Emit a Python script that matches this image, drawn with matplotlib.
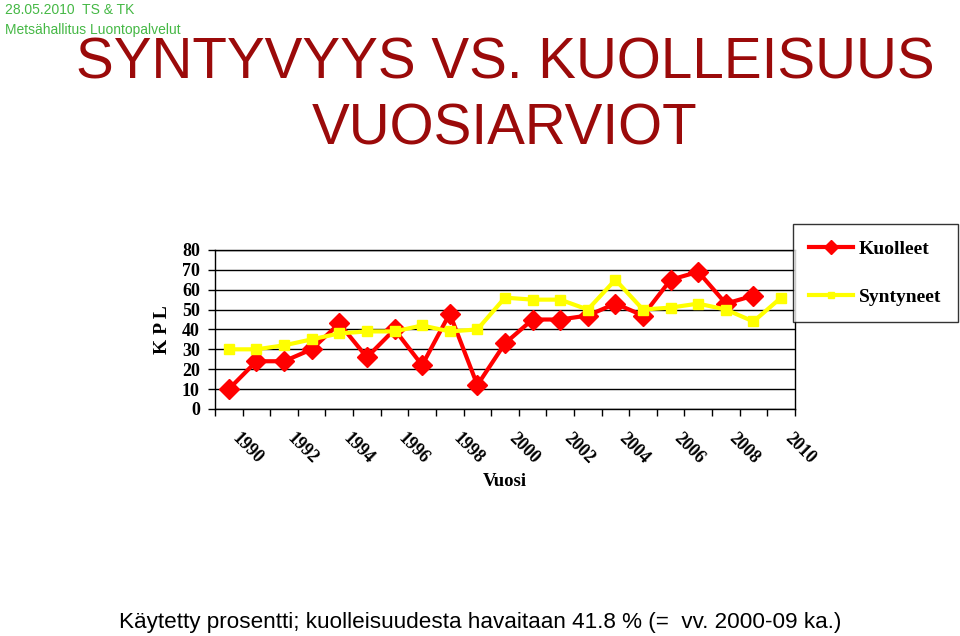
import matplotlib
matplotlib.use("Agg")
import matplotlib.pyplot as plt
import numpy as np

# ── data ─────────────────────────────────────────────
years = list(range(1990, 2011))
kuolleet = [10, 24, 24, 30, 43, 26, 40, 22, 48, 12,
            33, 45, 45, 47, 53, 47, 65, 69, 53, 57, None]
syntyneet = [30, 30, 32, 35, 38, 39, 39, 42, 39, 40,
             56, 55, 55, 50, 65, 50, 51, 53, 50, 44, 56]
label_years = [str(y) for y in years[::2]]

RED = "#ff0000"
YELLOW = "#ffff00"
TITLE_RED = "#9b0a0a"
GREEN = "#45b845"
SERIF = "Liberation Serif"

fig = plt.figure(figsize=(9.6, 6.36), dpi=100)
fig.patch.set_facecolor("white")

# header texts
fig.text(0.005, 0.985, "28.05.2010  TS & TK", color=GREEN, fontsize=10,
         family="Liberation Sans", ha="left", va="center")
fig.text(0.005, 0.953, "Metsähallitus Luontopalvelut", color=GREEN, fontsize=10,
         family="Liberation Sans", ha="left", va="center")
fig.text(0.526, 0.900, "SYNTYVYYS VS. KUOLLEISUUS", color=TITLE_RED, fontsize=40.8,
         family="Liberation Sans", ha="center", va="center")
fig.text(0.526, 0.797, "VUOSIARVIOT", color=TITLE_RED, fontsize=40.8,
         family="Liberation Sans", ha="center", va="center")

ax = fig.add_axes([0.224, 0.357, 0.604, 0.250])
x = np.arange(len(years))
k = np.array([np.nan if v is None else v for v in kuolleet], dtype=float)
s = np.array(syntyneet, dtype=float)

ax.plot(x, k, color=RED, lw=3, marker="D", markersize=10, label="Kuolleet", zorder=3)
ax.plot(x, s, color=YELLOW, lw=3, marker="s", markersize=7, label="Syntyneet", zorder=4)

ax.set_xlim(-0.5, len(years) - 0.5)
ax.set_ylim(0, 80)
ax.set_yticks(range(0, 81, 10))
ax.yaxis.grid(True, color="black", lw=1)
ax.set_axisbelow(True)

ax.set_xticks(np.arange(-0.5, len(years), 1))
ax.set_xticklabels([])
ax.set_xticks(x[::2], label_years, minor=True)
ax.tick_params(axis="x", which="major", direction="out", length=5, width=1)
ax.tick_params(axis="x", which="minor", length=0, pad=15)
ax.tick_params(axis="y", direction="out", length=5, width=1, pad=6)
for lab in ax.get_xticklabels(minor=True):
    lab.set_rotation(-45)
    lab.set_ha("left")
    lab.set_va("top")
    lab.set_family(SERIF)
    lab.set_fontweight("bold")
    lab.set_fontsize(13)
for lab in ax.get_yticklabels():
    lab.set_family(SERIF)
    lab.set_fontweight("bold")
    lab.set_fontsize(13)

for sp in ax.spines.values():
    sp.set_color("black")
    sp.set_linewidth(1)

ax.set_ylabel("K P L", family=SERIF, fontweight="bold", fontsize=14, labelpad=8)
ax.set_xlabel("Vuosi", family=SERIF, fontweight="bold", fontsize=13.5, labelpad=4)

leg = fig.legend(loc="upper left", bbox_to_anchor=(0.826, 0.648), borderaxespad=0,
                 frameon=True, fancybox=False, edgecolor="black", borderpad=0.85,
                 labelspacing=1.55, handlelength=2.25, handletextpad=0.3, markerscale=0.7,
                 prop={"family": SERIF, "weight": "bold", "size": 14})
leg.get_frame().set_linewidth(1)

fig.text(0.5, 0.022, "Käytetty prosentti; kuolleisuudesta havaitaan 41.8 % (=  vv. 2000-09 ka.)",
         fontsize=16.2, family="Liberation Sans", ha="center", va="center")

fig.savefig("out.png", dpi=100, facecolor="white")
